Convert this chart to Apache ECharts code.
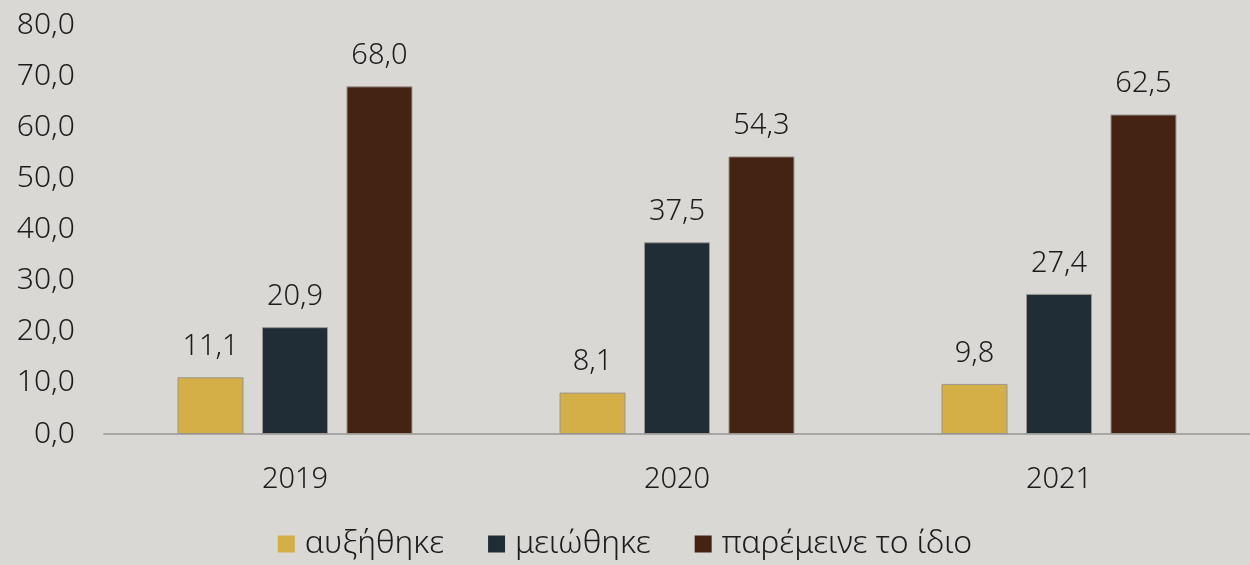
<!DOCTYPE html>
<html>
<head>
<meta charset="utf-8">
<script src="https://cdn.jsdelivr.net/npm/echarts@6/dist/echarts.min.js"></script>
<style>
  html, body { margin: 0; padding: 0; background: #d9d8d4; }
  #chart { width: 1250px; height: 565px; }
</style>
</head>
<body>
<div id="chart"></div>
<script>
// data
var years = ["2019", "2020", "2021"];
var increased = [11.1, 8.1, 9.8];
var decreased = [20.9, 37.5, 27.4];
var unchanged = [68.0, 54.3, 62.5];
var seriesNames = ["αυξήθηκε", "μειώθηκε", "παρέμεινε το ίδιο"];
var colors = ["#d4ae47", "#212d36", "#452312"];

var fontFamily = "'Noto Sans', sans-serif";
var fontWeight = 300;
var fontSize = 29;
var fmt = function (v) { return Number(v).toFixed(1).replace(".", ","); };

var myChart = echarts.init(document.getElementById("chart"));

function makeSeries(name, data, color) {
  return {
    name: name,
    type: "bar",
    data: data,
    barWidth: 66,
    barGap: "28%",
    itemStyle: {
      color: color,
      borderColor: "#9a968f",
      borderWidth: 1,
    },
    label: {
      show: true,
      position: "top",
      distance: 16,
      color: "#1c1c1c",
      fontSize: fontSize,
      fontWeight: fontWeight,
      fontFamily: fontFamily,
      formatter: function (p) { return fmt(p.value); },
    },
  };
}

var option = {
  backgroundColor: "#d9d8d4",
  animation: false,
  color: colors,
  grid: {
    left: 104,
    right: 0,
    top: 25,
    bottom: 131,
  },
  legend: {
    data: seriesNames,
    bottom: 0,
    left: "center",
    itemWidth: 17,
    itemHeight: 17,
    itemGap: 44,
    icon: "rect",
    itemStyle: { borderWidth: 0 },
    textStyle: {
      color: "#1c1c1c",
      fontSize: 32,
      fontWeight: fontWeight,
      fontFamily: fontFamily,
      padding: [0, 0, 0, 5],
    },
  },
  xAxis: {
    type: "category",
    data: years,
    axisLine: { lineStyle: { color: "#a9a7a3", width: 2 } },
    axisTick: { show: false },
    axisLabel: {
      color: "#1c1c1c",
      fontSize: fontSize,
      fontWeight: fontWeight,
      fontFamily: fontFamily,
      margin: 31,
    },
  },
  yAxis: {
    type: "value",
    min: 0,
    max: 80,
    interval: 10,
    splitLine: { show: false },
    axisLine: { show: false },
    axisTick: { show: false },
    axisLabel: {
      color: "#1c1c1c",
      fontSize: 30,
      fontWeight: fontWeight,
      fontFamily: fontFamily,
      margin: 29,
      formatter: fmt,
    },
  },
  series: [
    makeSeries(seriesNames[0], increased, colors[0]),
    makeSeries(seriesNames[1], decreased, colors[1]),
    makeSeries(seriesNames[2], unchanged, colors[2]),
  ],
};

myChart.setOption(option);
</script>
</body>
</html>
